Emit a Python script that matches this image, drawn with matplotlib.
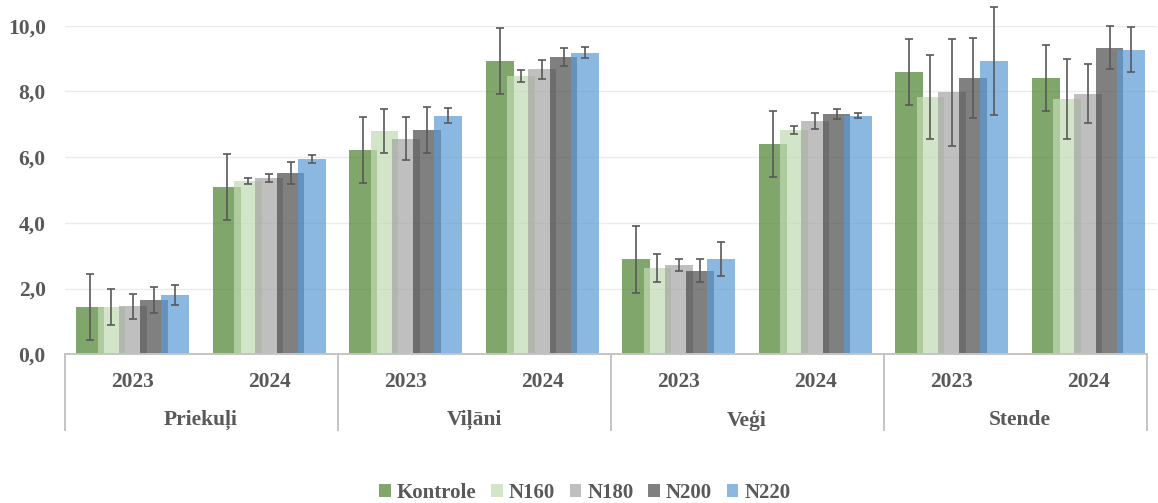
import matplotlib
matplotlib.use("Agg")
import matplotlib.pyplot as plt
import numpy as np
from matplotlib.patches import Patch

locations = ["Priekuļi", "Viļāni", "Veģi", "Stende"]
years = ["2023", "2024"]
series_names = ["Kontrole", "N160", "N180", "N200", "N220"]

kontrole = [1.44, 5.10, 6.22, 8.92, 2.89, 6.40, 8.60, 8.40]
kontrole_err = [1.00, 1.00, 1.01, 1.00, 1.02, 1.00, 1.00, 1.00]
n160 = [1.44, 5.27, 6.80, 8.47, 2.62, 6.82, 7.83, 7.77]
n160_err = [0.55, 0.08, 0.67, 0.19, 0.42, 0.12, 1.29, 1.23]
n180 = [1.46, 5.37, 6.56, 8.67, 2.72, 7.11, 7.98, 7.93]
n180_err = [0.38, 0.13, 0.65, 0.29, 0.17, 0.24, 1.63, 0.89]
n200 = [1.65, 5.51, 6.84, 9.05, 2.54, 7.32, 8.40, 9.33]
n200_err = [0.39, 0.33, 0.70, 0.27, 0.35, 0.16, 1.22, 0.66]
n220 = [1.80, 5.95, 7.26, 9.18, 2.91, 7.26, 8.93, 9.27]
n220_err = [0.31, 0.12, 0.23, 0.16, 0.52, 0.08, 1.64, 0.69]

yticks = [0, 2, 4, 6, 8, 10]
ytick_labels = ["0,0", "2,0", "4,0", "6,0", "8,0", "10,0"]

values = [kontrole, n160, n180, n200, n220]
errors = [kontrole_err, n160_err, n180_err, n200_err, n220_err]
# base colours (drawn with alpha so overlaps blend like the reference)
colors = ["#4c812d", "#c1dbb1", "#a4a4a4", "#4a4a4a", "#599ad3"]
alpha = 0.7

txt_color = "#595959"
font = "Liberation Serif"

W, H = 1158, 503
fig = plt.figure(figsize=(W / 100, H / 100), dpi=100)
left_px, right_px = 64.5, 1156.5
top_px, bottom_px = 25.7, 354.3
ax = fig.add_axes([left_px / W, 1 - bottom_px / H, (right_px - left_px) / W, (bottom_px - top_px) / H])

n_cat = len(locations) * len(years)
x = np.arange(n_cat) + 0.5
step = 0.1557
width = 0.205

for i, (vals, col) in enumerate(zip(values, colors)):
    ax.bar(x + (i - 2) * step, vals, width=width, color=col, alpha=alpha, linewidth=0, zorder=2)

for i, (vals, errs) in enumerate(zip(values, errors)):
    cont = ax.errorbar(x + (i - 2) * step, vals, yerr=errs, fmt="none", ecolor="#595959",
                       elinewidth=1.2, capsize=2.6, capthick=1.2, zorder=5)
    for c in cont.get_children():
        c.set_clip_on(False)

ax.set_xlim(0, n_cat)
ax.set_ylim(0, 10)
ax.set_yticks(yticks)
ax.set_yticklabels(ytick_labels)
ax.tick_params(axis="y", length=0, pad=13.5, labelsize=15.5, labelcolor=txt_color)
for lab in ax.get_yticklabels():
    lab.set_fontfamily(font)
    lab.set_fontweight("bold")
ax.set_xticks([])
for s in ax.spines.values():
    s.set_visible(False)
ax.yaxis.grid(True, color="#ebebeb", linewidth=1.0, zorder=0)
ax.set_axisbelow(True)

# category table lines
line_col = "#c4c4c4"
y_bottom = -0.23
ax.plot([0, 7.93], [0, 0], color=line_col, lw=1.4, clip_on=False, zorder=3)
for b in [0, 2, 4, 6]:
    ax.plot([b, b], [0, y_bottom * 10], color=line_col, lw=1.4, clip_on=False, zorder=3)
ax.plot([7.93, 7.93], [0, y_bottom * 10], color=line_col, lw=1.4, clip_on=False, zorder=3)

for k in range(n_cat):
    ax.text(x[k], -0.0834 * 10, years[k % 2], ha="center", va="center", fontsize=15.5,
            fontfamily=font, fontweight="bold", color=txt_color, clip_on=False)
for j, loc in enumerate(locations):
    ax.text(2 * j + 1, -0.20 * 10, loc, ha="center", va="center", fontsize=15.5,
            fontfamily=font, fontweight="bold", color=txt_color, clip_on=False)

handles = [Patch(facecolor=c, alpha=alpha, linewidth=0) for c in colors]
leg = fig.legend(handles, series_names, loc="center", bbox_to_anchor=(585 / W, 1 - 493 / H),
                 ncol=5, frameon=False, handlelength=0.55, handleheight=0.55,
                 handletextpad=0.3, columnspacing=0.7,
                 prop={"family": font, "weight": "bold", "size": 15})
for t in leg.get_texts():
    t.set_color(txt_color)

fig.savefig("out.png", dpi=100)
